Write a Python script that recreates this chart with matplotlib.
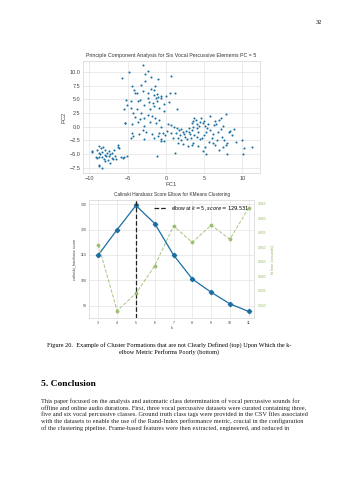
import matplotlib

matplotlib.use("Agg")
import matplotlib.pyplot as plt

W, H = 339, 480

# PCA scatter (PC1, PC2)
pc1 = [
    -9.7, -9.6, -9.0, -8.7, -8.5, -8.2, -8.8, -8.6, -8.3, -8.0, -7.7, -7.5, -7.3, -7.8,
    -8.4, -8.8, -9.0, -8.1, -7.6, -7.3, -8.8, -8.7, -8.4, -7.0, -6.7, -6.5, -6.3, -6.2,
    -6.1, -5.9, -5.6, -5.5, -5.1, -6.8, -7.0, -8.0, -7.9, -9.2, -7.4, -6.9,
    -3.0, -2.4, -4.8, -5.8, -2.7, -1.9, 0.7, -1.0, -2.7, -4.4, -3.2, -1.4, -2.0, -4.2,
    -3.0, -1.5, -4.0, -3.8, -2.4, -1.2, 0.5, 1.2, -1.6, -0.7, -5.2, -4.6, -3.7, -3.4,
    -2.4, -2.2, -1.3, -1.0, -0.6, 0.0, -1.1, -1.7, 0.4, -5.5, -5.1, -4.6, -3.8, -2.8,
    -2.1, -1.6, -0.9, -0.3, -4.3, -3.2, -2.4, -1.8, -0.2, -4.1, -3.4, -2.8, -1.4, -0.9,
    1.5, -5.3, -5.4, -4.4, -3.6, -2.9, -2.1, -1.3, -0.6, 0.3, 0.7, -4.4, -4.3, -3.5,
    -2.6, -1.8, -1.5, -1.0, -0.4, -0.1, 0.6, -0.7, -0.2, -2.9, -4.6, -0.9, -1.1, 1.2,
    0.1, -0.6, -3.0,
    1.1, 1.4, 1.7, 2.0, 2.2, 2.4, 2.6, 1.8, 1.3, 0.9, 1.6, 2.0, 2.5, 2.8, 3.0, 3.1,
    3.3, 3.4, 3.5, 3.4, 3.6, 3.7, 3.9, 4.0, 4.1, 4.2, 4.5, 4.6, 4.9, 5.0, 5.1, 5.4,
    5.5, 5.7, 5.3, 5.0, 4.7, 4.4, 4.0, 3.7, 3.5, 3.4, 4.2, 5.1, 4.8, 5.3, 5.6, 6.0,
    6.1, 6.4, 6.2, 6.3, 6.4, 6.6, 7.0, 7.2, 7.5, 7.8, 7.2, 6.8, 7.3, 7.6, 7.8, 8.0,
    7.4, 6.9, 8.0, 8.3, 8.6, 8.9, 9.2, 10.0, 10.2, 10.1, 11.2, 2.2, 2.9, 1.6, 3.0,
    4.3, 6.7, 5.8, 8.4,
]
pc2 = [
    -4.4, -4.6, -4.3, -3.6, -4.0, -3.8, -4.8, -5.0, -4.6, -4.3, -4.8, -4.5, -5.0, -5.3,
    -5.6, -5.6, -5.7, -6.0, -6.2, -6.6, -7.0, -7.3, -7.5, -5.7, -5.4, -6.0, -3.4, -3.7,
    -4.0, -5.5, -5.8, -5.6, -5.3, -4.3, -4.8, -5.2, -6.3, -5.5, -5.4, -6.0,
    11.3, 10.2, 10.1, 8.9, 9.7, 9.2, 9.3, 8.8, 8.3, 7.4, 7.7, 7.5, 7.0, 6.8,
    6.5, 6.7, 6.2, 6.2, 6.1, 6.0, 6.1, 6.1, 5.9, 5.7, 4.9, 4.8, 4.7, 4.9,
    5.2, 4.5, 5.2, 5.5, 5.2, 5.6, 4.8, 4.3, 4.5, 3.2, 3.9, 3.5, 3.2, 4.0,
    3.3, 3.8, 3.5, 4.2, 2.6, 2.5, 2.1, 2.0, 2.8, 1.8, 1.4, 1.5, 1.5, 1.3,
    3.2, 0.7, 0.6, 0.5, 0.8, 0.2, 0.9, 0.6, 0.0, 0.4, 0.3, -1.1, -1.7, -1.3,
    -1.0, -1.4, -2.0, -1.7, -1.2, -1.5, -1.1, -2.3, -2.6, -2.2, -2.0, -1.1, -5.4, -4.8,
    -0.8, -2.7, -0.6,
    0.0, -0.2, -0.6, -0.4, -1.0, -1.3, -0.8, -1.5, -1.2, -2.0, -2.1, -2.5, -1.9, -2.3,
    -0.2, -1.4, -2.0, -0.7, 0.0, 0.6, 1.1, 1.6, 1.2, 0.5, -0.3, -0.9, 0.8, 1.5, 0.6,
    1.0, 0.1, -0.3, 0.4, 1.9, -1.0, -1.5, -2.0, -2.3, -1.9, -1.5, -3.0, -3.4, -3.6,
    -3.8, -4.5, -5.0, -2.8, -2.1, -3.0, -3.3, -1.3, 0.3, 1.0, 0.5, 1.3, 1.6, 0.2, 2.3,
    -0.4, -1.0, -1.9, -2.4, -3.3, -3.0, -3.7, -4.3, -5.1, -1.0, -1.5, -0.4, -2.8, -2.4,
    -4.0, -5.1, -3.8, -3.2, -3.5, -3.0, -1.0, 0.2, -2.4, -0.7, -0.8,
]

# elbow chart
k_values = [3, 4, 5, 6, 7, 8, 9, 10, 11]
ch_scores = [110.0, 120.0, 129.531, 122.4, 110.0, 100.5, 95.3, 90.7, 87.7]
fit_times = [0.0509, 0.0281, 0.0341, 0.0436, 0.0573, 0.0517, 0.0576, 0.0528, 0.0636]
elbow_k = 5
elbow_score = 129.531

caption = [
    "Figure 20.  Example of Cluster Formations that are not Clearly Defined (top) Upon Which the k-",
    "elbow Metric Performs Poorly (bottom)",
]
heading = "5. Conclusion"
paragraph = [
    "This paper focused on the analysis and automatic class determination of vocal percussive sounds for",
    "offline and online audio durations. First, three vocal percussive datasets were curated containing three,",
    "five and six vocal percussive classes. Ground truth class tags were provided in the CSV files associated",
    "with the datasets to enable the use of the Rand-Index performance metric, crucial in the configuration",
    "of the clustering pipeline. Frame-based features were then extracted, engineered, and reduced in",
]

BLUE = "#1b6ea3"
GREEN = "#93b865"
GRID = "#e3e3e3"
SPINE = "#d5d5d5"
SANS = "Liberation Sans"
SERIF = "Liberation Serif"


def px_box(left, top, right, bottom):
    return [left / W, 1 - bottom / H, (right - left) / W, (bottom - top) / H]


def style_axes(ax, size):
    ax.set_facecolor("white")
    ax.grid(True, color=GRID, linewidth=0.5)
    ax.set_axisbelow(True)
    for sp in ax.spines.values():
        sp.set_color(SPINE)
        sp.set_linewidth(0.5)
    ax.tick_params(length=0, labelsize=size, colors="#444444", pad=2)
    for lab in ax.get_xticklabels() + ax.get_yticklabels():
        lab.set_family(SANS)


fig = plt.figure(figsize=(W / 100, H / 100), dpi=100)
fig.patch.set_facecolor("white")

# top: PCA scatter
ax1 = fig.add_axes(px_box(83.3, 60.7, 260, 173.3))
ax1.scatter(pc1, pc2, s=2.2, color=BLUE, linewidths=0)
ax1.set_xlim(-10.8, 12.3)
ax1.set_ylim(-8.55, 12.1)
ax1.set_xticks([-10, -5, 0, 5, 10])
ax1.set_yticks([-7.5, -5.0, -2.5, 0.0, 2.5, 5.0, 7.5, 10.0])
ax1.set_yticklabels(["\u22127.5", "\u22125.0", "\u22122.5", "0.0", "2.5", "5.0", "7.5", "10.0"])
ax1.set_xticklabels(["\u221210", "\u22125", "0", "5", "10"])
style_axes(ax1, 4.0)
ax1.set_title("Principle Component Analysis for Six Vocal Percussive Elements PC = 5",
              fontsize=3.8, family=SANS, color="#333333", pad=3)
ax1.set_xlabel("PC1", fontsize=4.2, family=SANS, color="#444444", labelpad=1)
ax1.set_ylabel("PC2", fontsize=4.2, family=SANS, color="#444444", labelpad=2)

# bottom: KElbow with fit time
ax2 = fig.add_axes(px_box(89.3, 200, 254, 318.3))
ax2.plot(k_values, ch_scores, color=BLUE, marker="D", markersize=2.2, linewidth=0.9)
ax2.axvline(elbow_k, color="#222222", linestyle="--", linewidth=0.9,
            label=f"elbow at $k = {elbow_k}$, $score = {elbow_score:.3f}$")
ax2.set_xlim(2.52, 11.28)
ax2.set_ylim(85.0, 131.7)
ax2.set_xticks(k_values)
ax2.set_yticks([90, 100, 110, 120, 130])
style_axes(ax2, 2.6)
ax2.set_title("Calinski Harabasz Score Elbow for KMeans Clustering",
              fontsize=3.4, family=SANS, color="#333333", pad=3)
ax2.set_xlabel("k", fontsize=2.8, family=SANS, color="#444444", labelpad=1)
ax2.set_ylabel("calinski_harabasz score", fontsize=2.8, family=SANS, color="#444444", labelpad=3)
ax2.legend(loc="upper right", frameon=False, prop={"family": SANS, "size": 3.7},
           handlelength=2.5, borderaxespad=0.4)

ax3 = ax2.twinx()
ax3.plot(k_values, fit_times, color=GREEN, marker="o", markersize=1.8, linewidth=0.7,
         linestyle="--", alpha=0.8)
ax3.set_ylim(0.0255, 0.0663)
ax3.set_yticks([0.030, 0.035, 0.040, 0.045, 0.050, 0.055, 0.060, 0.065])
ax3.grid(False)
for sp in ax3.spines.values():
    sp.set_visible(False)
ax3.tick_params(length=0, labelsize=2.4, colors=GREEN, pad=3)
for lab in ax3.get_yticklabels():
    lab.set_family(SANS)
ax3.set_ylabel("fit time (seconds)", fontsize=2.8, family=SANS, color=GREEN, labelpad=3)

# page text
fig.text(322 / W, 1 - 22 / H, "32", fontsize=4.6, family=SERIF, ha="right", va="center")
fig.text(0.5, 1 - 345 / H, caption[0], fontsize=4.5, family=SERIF, ha="center", va="center")
fig.text(0.5, 1 - 351.8 / H, caption[1], fontsize=4.5, family=SERIF, ha="center", va="center")
fig.text(41 / W, 1 - 384.4 / H, heading, fontsize=6.8, family=SERIF, weight="bold",
         ha="left", va="center")
for i, line in enumerate(paragraph):
    fig.text(41 / W, 1 - (401.2 + 6.67 * i) / H, line, fontsize=4.55, family=SERIF,
             color="#222222", ha="left", va="center")

fig.savefig("out.png", dpi=100)
